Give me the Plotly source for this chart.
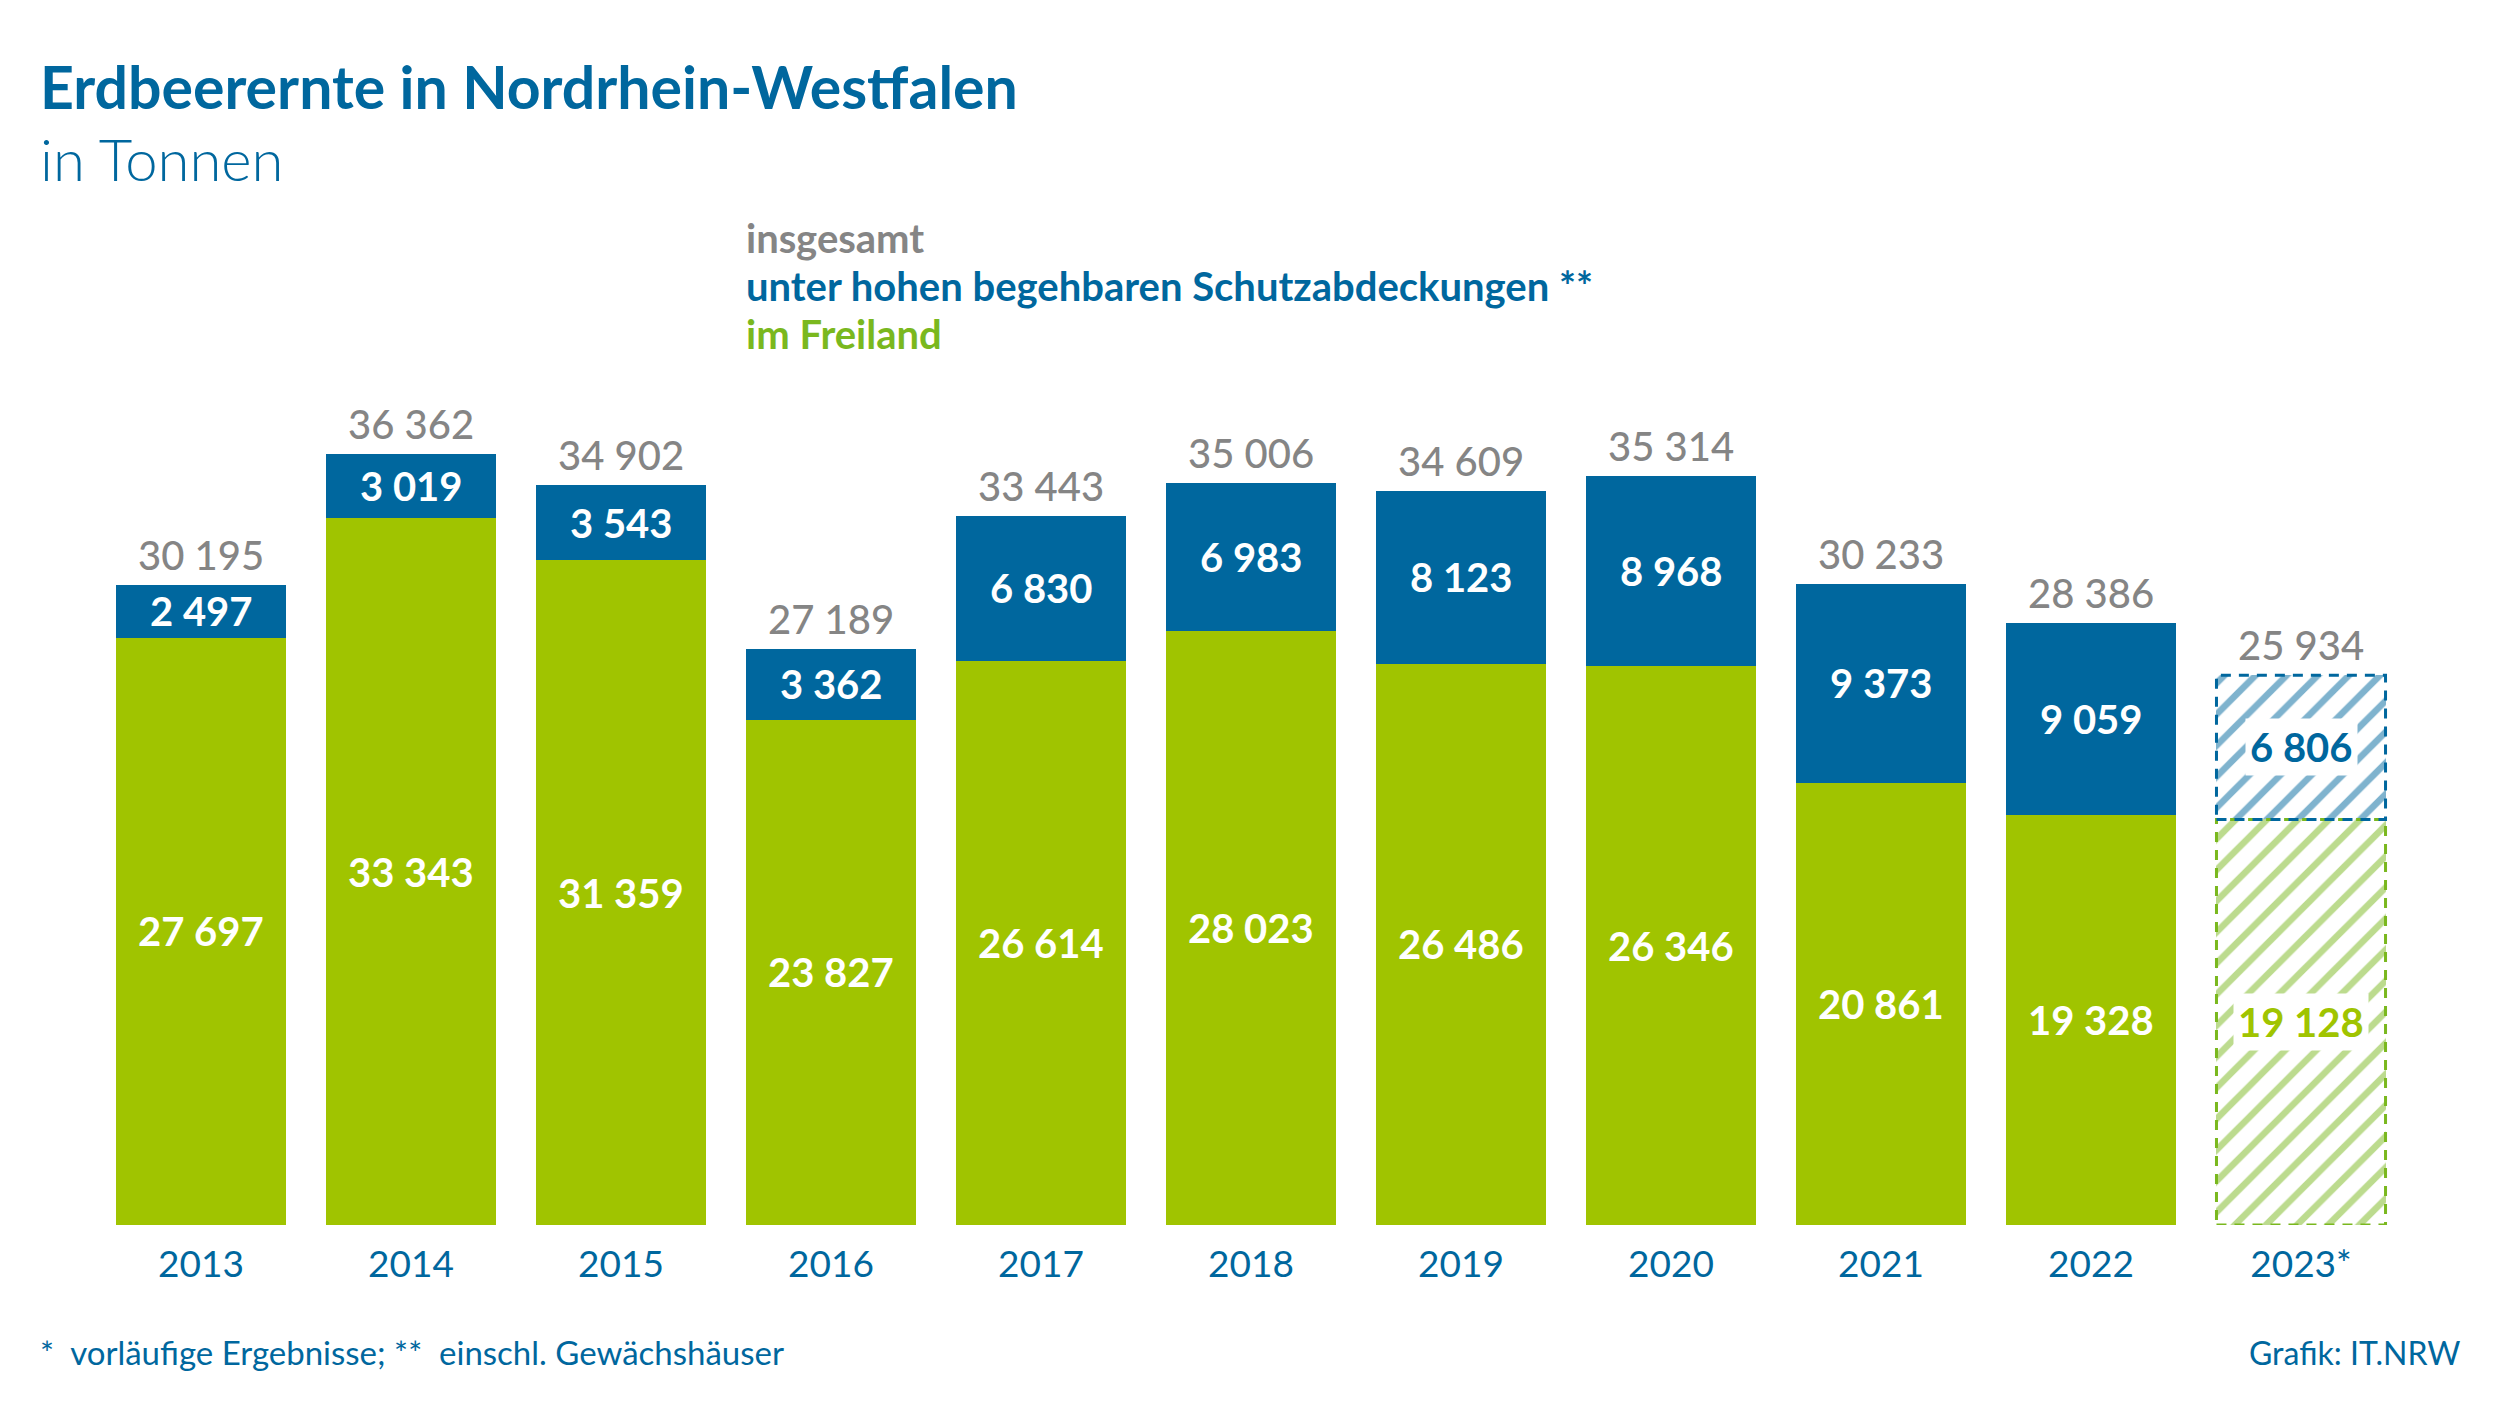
import plotly.graph_objects as go

# ========== Daten ==========
years = ["2013", "2014", "2015", "2016", "2017", "2018", "2019", "2020", "2021", "2022", "2023*"]
freiland = [27697, 33343, 31359, 23827, 26614, 28023, 26486, 26346, 20861, 19328, 19128]
schutz = [2497, 3019, 3543, 3362, 6830, 6983, 8123, 8968, 9373, 9059, 6806]
insgesamt = [30195, 36362, 34902, 27189, 33443, 35006, 34609, 35314, 30233, 28386, 25934]
vorlaeufig = [False] * 10 + [True]

# ========== Farben / Layout ==========
BLUE = "#00679e"
GREEN = "#a0c400"
GREEN_HATCH = "#7ab81e"
GREY = "#858585"
FONT = "Lato"

W, H = 2500, 1406
OFF = 8  # Seitenrand des Browsers (body margin)
L, R, T, B = 96 - OFF, 94 + OFF, 377 - OFF, 181 + OFF
BAR_W = 0.805


def px_x(px):
    return (px - OFF - L) / (W - L - R)


def px_y(py):
    return (H - B - (py - OFF)) / (H - T - B)


def fmt(v):
    return f"{v:,}".replace(",", " ")


idx_fix = [i for i, p in enumerate(vorlaeufig) if not p]
idx_vorl = [i for i, p in enumerate(vorlaeufig) if p]

fig = go.Figure()

# feste Ergebnisse (voll) und vorlaeufige Ergebnisse (schraffiert)
fig.add_trace(go.Bar(
    x=idx_fix, y=[freiland[i] for i in idx_fix], name="im Freiland", width=BAR_W,
    marker=dict(color=GREEN, line=dict(width=0)), hoverinfo="skip",
))
fig.add_trace(go.Bar(
    x=idx_vorl, y=[freiland[i] for i in idx_vorl], name="im Freiland (vorl.)", width=BAR_W,
    marker=dict(color="white", line=dict(width=0),
                pattern=dict(shape="/", fgcolor=GREEN_HATCH, bgcolor="white",
                             size=22, solidity=0.3)),
    hoverinfo="skip",
))
fig.add_trace(go.Bar(
    x=idx_fix, y=[schutz[i] for i in idx_fix], name="unter hohen begehbaren Schutzabdeckungen",
    width=BAR_W, marker=dict(color=BLUE, line=dict(width=0)), hoverinfo="skip",
))
fig.add_trace(go.Bar(
    x=idx_vorl, y=[schutz[i] for i in idx_vorl], name="Schutzabdeckungen (vorl.)", width=BAR_W,
    marker=dict(color="white", line=dict(width=0),
                pattern=dict(shape="/", fgcolor=BLUE, bgcolor="white",
                             size=22, solidity=0.3)),
    hoverinfo="skip",
))

# gestrichelte Umrandung fuer vorlaeufige Werte
for i in idx_vorl:
    fig.add_shape(type="rect", xref="x", yref="y",
                  x0=i - BAR_W / 2, x1=i + BAR_W / 2, y0=0, y1=freiland[i],
                  line=dict(color=GREEN_HATCH, width=3, dash="10px,8px"))
    fig.add_shape(type="rect", xref="x", yref="y",
                  x0=i - BAR_W / 2, x1=i + BAR_W / 2, y0=freiland[i], y1=freiland[i] + schutz[i],
                  line=dict(color=BLUE, width=3, dash="10px,8px"))

# Beschriftungen
for i in range(len(years)):
    p = vorlaeufig[i]
    fig.add_annotation(x=i, y=insgesamt[i], text=fmt(insgesamt[i]), showarrow=False,
                       yanchor="middle", yshift=30,
                       font=dict(family=FONT, size=40, color=GREY, weight=500))
    fig.add_annotation(x=i, y=freiland[i] + schutz[i] / 2, text=fmt(schutz[i]), showarrow=False,
                       font=dict(family=FONT, size=40, color=BLUE if p else "white", weight="bold"),
                       bgcolor="white" if p else None, borderpad=4)
    fig.add_annotation(x=i, y=freiland[i] / 2, text=fmt(freiland[i]), showarrow=False,
                       font=dict(family=FONT, size=40, color=GREEN if p else "white", weight="bold"),
                       bgcolor="white" if p else None, borderpad=4)

# Titel und Legende
fig.add_annotation(xref="paper", yref="paper", x=px_x(38), y=px_y(86), xanchor="left", yanchor="middle",
                   text="Erdbeerernte in Nordrhein-Westfalen", showarrow=False,
                   font=dict(family=FONT, size=59, color=BLUE, weight="bold"))
fig.add_annotation(xref="paper", yref="paper", x=px_x(38), y=px_y(158), xanchor="left", yanchor="middle",
                   text="in Tonnen", showarrow=False,
                   font=dict(family=FONT, size=58, color=BLUE, weight=300))

legend_items = [("insgesamt", GREY), ("unter hohen begehbaren Schutzabdeckungen **", BLUE),
                ("im Freiland", GREEN_HATCH)]
for k, (txt, col) in enumerate(legend_items):
    fig.add_annotation(xref="paper", yref="paper", x=px_x(744), y=px_y(238 + 48 * k),
                       xanchor="left", yanchor="middle", text=txt, showarrow=False,
                       font=dict(family=FONT, size=40, color=col, weight="bold"))

fig.add_annotation(xref="paper", yref="paper", x=px_x(38), y=px_y(1352), xanchor="left", yanchor="middle",
                   text="*  vorläufige Ergebnisse; **  einschl. Gewächshäuser", showarrow=False,
                   font=dict(family=FONT, size=33, color=BLUE))
fig.add_annotation(xref="paper", yref="paper", x=px_x(2462), y=px_y(1352), xanchor="right", yanchor="middle",
                   text="Grafik: IT.NRW", showarrow=False,
                   font=dict(family=FONT, size=32, color=BLUE))

fig.update_layout(
    barmode="stack",
    width=W, height=H,
    margin=dict(l=L, r=R, t=T, b=B),
    paper_bgcolor="white", plot_bgcolor="white",
    showlegend=False,
    xaxis=dict(range=[-0.5, len(years) - 0.5], showgrid=False, showline=False,
               zeroline=False, ticks="", tickmode="array",
               tickvals=list(range(len(years))), ticktext=years, ticklabelstandoff=14,
               tickfont=dict(family=FONT, size=37, color=BLUE)),
    yaxis=dict(range=[0, 40000], visible=False, showgrid=False, zeroline=False),
)

fig.write_html("out.html")
